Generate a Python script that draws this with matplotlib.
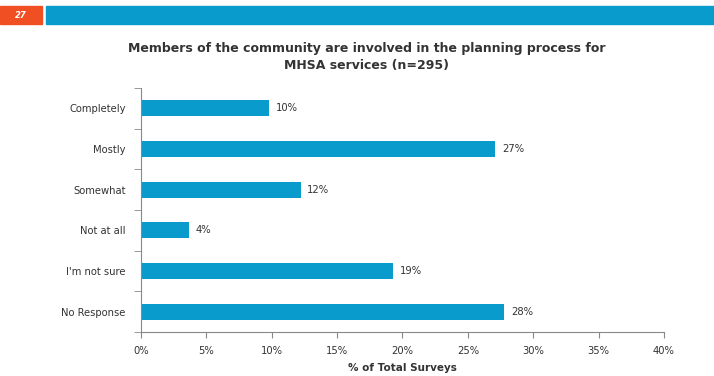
import numpy as np
import matplotlib.pyplot as plt
from matplotlib.patches import Rectangle

categories = ['Completely', 'Mostly', 'Somewhat', 'Not at all', "I'm not sure", 'No Response']
pct = [9.8, 27.1, 12.2, 3.7, 19.3, 27.8]
xticks = [0, 5, 10, 15, 20, 25, 30, 35, 40]

bar_color = '#0A9BCD'
text_color = '#333333'
plt.rcParams['font.family'] = ['DejaVu Sans']

fig = plt.figure(figsize=(7.14, 3.76), dpi=100)

# slide header: page number box and blue band
fig.patches.append(Rectangle((0.0, 1 - 24 / 376), 42 / 714, 18 / 376,
                             transform=fig.transFigure, color='#F04E23', zorder=0))
fig.patches.append(Rectangle((46 / 714, 1 - 24 / 376), 668 / 714, 18 / 376,
                             transform=fig.transFigure, color='#0A9BCD', zorder=0))
fig.text(21 / 714, 1 - 15 / 376, '27', color='white', fontsize=6,
         fontweight='bold', style='italic', ha='center', va='center')

ax = fig.add_axes([141 / 714, 1 - 332 / 376, 523 / 714, 244 / 376])
y = np.arange(len(categories))
ax.barh(y, pct, height=0.4, color=bar_color)
for yi, v in zip(y, pct):
    ax.text(v + 0.5, yi, '{:.0f}%'.format(v), va='center', ha='left',
            fontsize=7.2, color=text_color)

ax.set_xlim(0, 40)
ax.set_ylim(len(categories) - 0.5, -0.5)
ax.set_xticks(xticks)
ax.set_xticklabels(['{}%'.format(t) for t in xticks], fontsize=7.2, color=text_color)
ax.set_yticks(y)
ax.set_yticklabels(categories, fontsize=7.2, color=text_color)
ax.tick_params(axis='y', which='major', length=0, pad=11)
ax.set_yticks(np.arange(-0.5, len(categories)), minor=True)
ax.tick_params(axis='y', which='minor', length=5, color='#888888', direction='out')
ax.tick_params(axis='x', length=4, color='#888888', direction='out', pad=6)

for side in ['top', 'right']:
    ax.spines[side].set_visible(False)
ax.spines['left'].set_color('#888888')
ax.spines['bottom'].set_color('#888888')

ax.set_xlabel('% of Total Surveys', fontsize=7.5, fontweight='bold',
              color=text_color, labelpad=5)
fig.text(367 / 714, 1 - 57 / 376,
         'Members of the community are involved in the planning process for\nMHSA services (n=295)',
         ha='center', va='center', fontsize=9, fontweight='bold',
         color=text_color, linespacing=1.35)

fig.savefig('out.png', dpi=100)
